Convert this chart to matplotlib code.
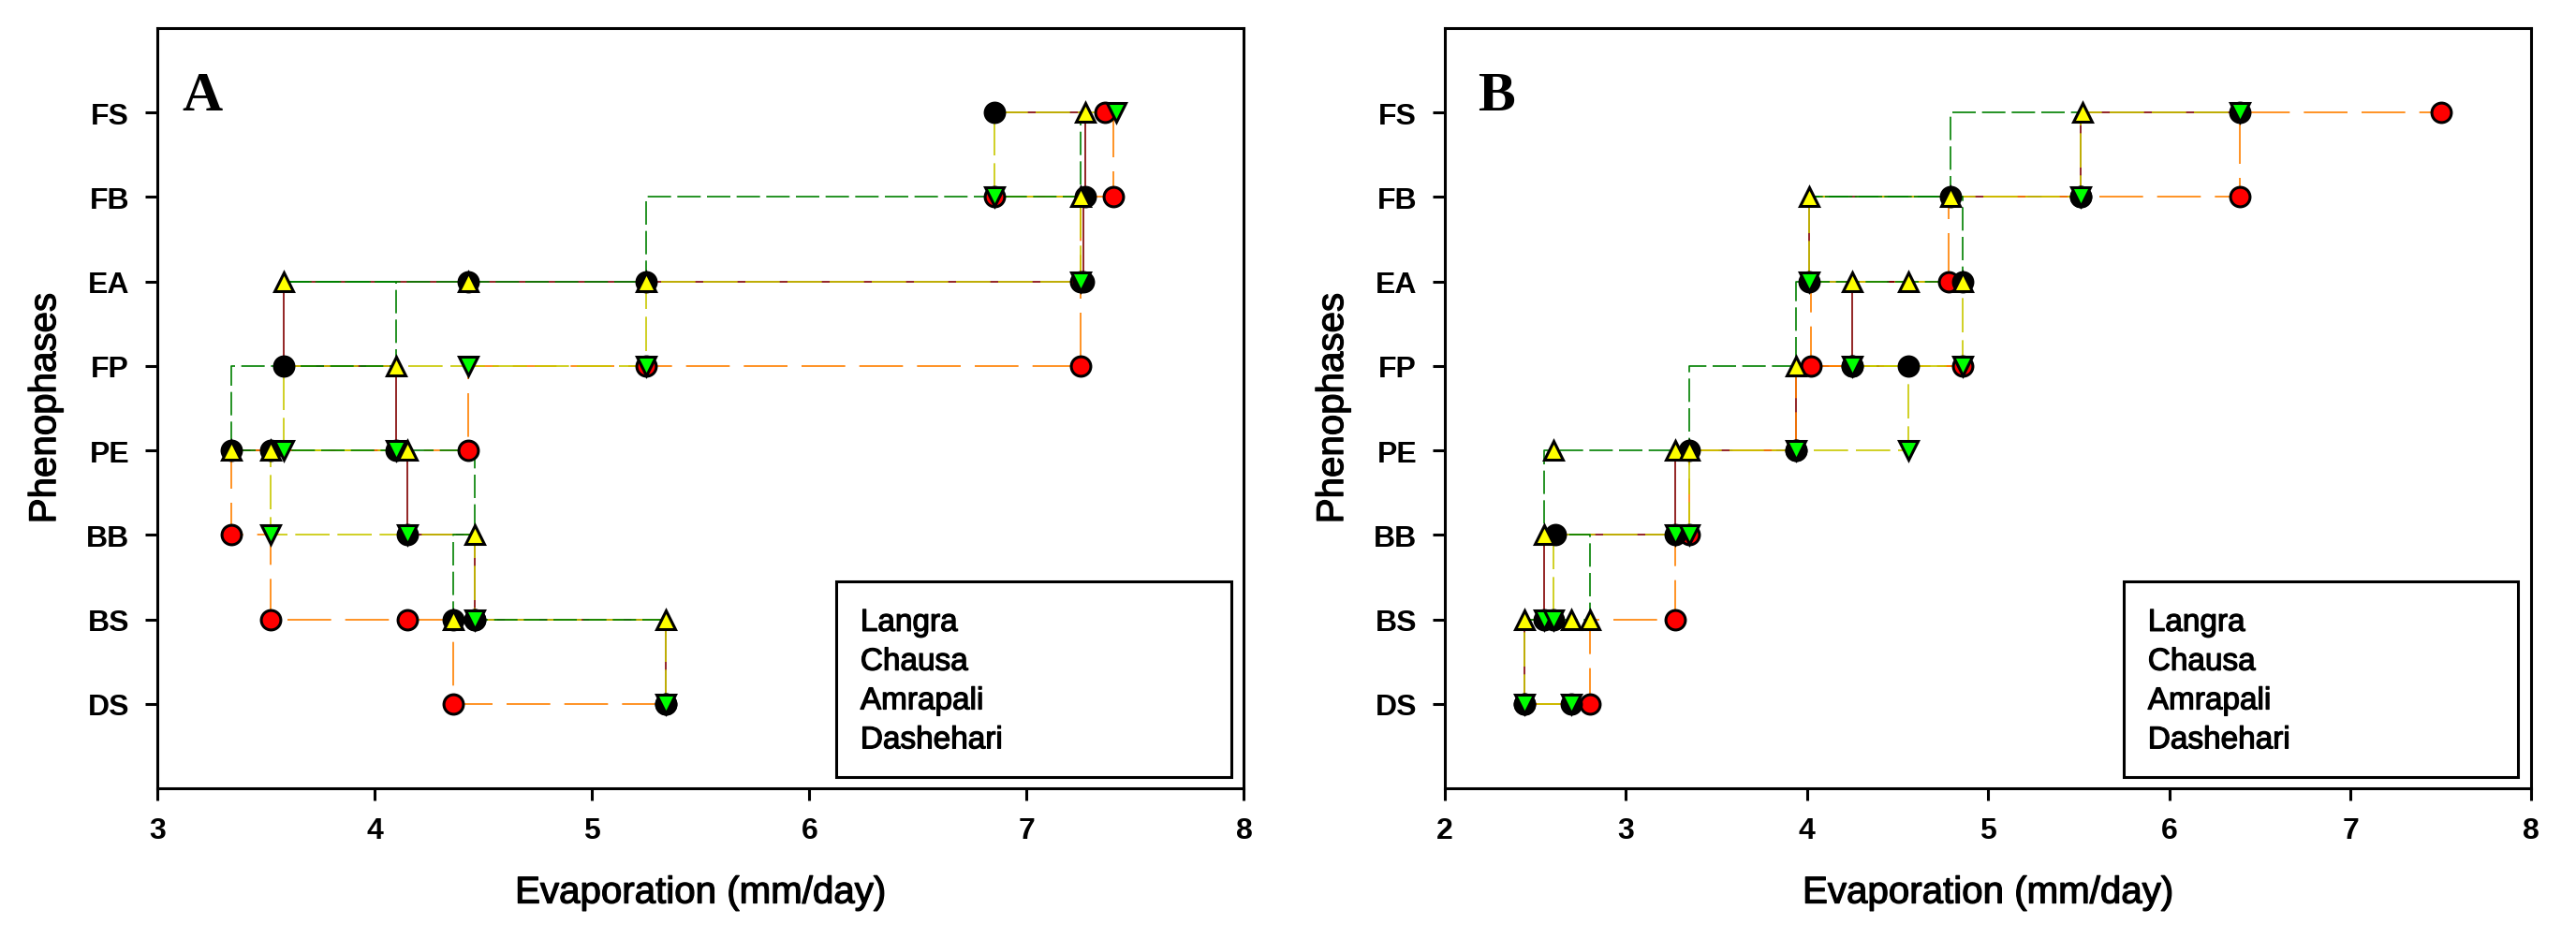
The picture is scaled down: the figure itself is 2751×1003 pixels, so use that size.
import matplotlib
matplotlib.use("Agg")
import matplotlib.pyplot as plt
import matplotlib.patheffects as pe
from matplotlib.patches import Rectangle

plt.rcParams['font.family'] = ['Liberation Sans', 'DejaVu Sans']

stages = ['DS', 'BS', 'BB', 'PE', 'FP', 'EA', 'FB', 'FS']
varieties = ['Langra', 'Chausa', 'Amrapali', 'Dashehari']

# weekly evaporation (mm/day) recorded within each phenophase, DS -> FS
# panel A
langra_a = [[5.34], [4.36, 4.46], [4.15], [3.34, 3.52, 4.10], [3.58],
            [4.43, 5.25, 7.26], [7.27], [6.85]]
chausa_a = [[5.34, 4.36], [4.46, 4.15, 3.52], [3.34], [4.43], [5.25, 7.25],
            [7.25], [6.85, 7.40], [7.36]]
amrapali_a = [[], [5.34, 4.36], [4.46], [4.15, 3.52, 3.34], [4.10],
              [3.58, 4.43, 5.25], [7.25], [7.27]]
dashehari_a = [[5.34], [4.46], [4.15, 3.52], [4.10, 3.58], [4.43, 5.25],
               [7.25], [6.85], [7.41]]

# panel B
langra_b = [[2.70, 2.44], [2.60, 2.55], [2.61, 3.27], [3.35, 3.94],
            [4.56, 4.25], [4.86, 4.01], [4.79, 5.51], [6.39]]
chausa_b = [[2.44, 2.80], [3.27], [3.35], [3.94], [4.25, 4.86, 4.02],
            [4.78], [5.51, 6.39], [7.50]]
amrapali_b = [[], [2.44, 2.70, 2.80], [2.55], [2.60, 3.27, 3.35], [3.94],
              [4.25, 4.56, 4.86], [4.01, 4.79], [5.52]]
dashehari_b = [[2.70, 2.44], [2.55, 2.60], [3.27, 3.35], [3.94, 4.56],
               [4.25, 4.86], [4.01], [5.51], [6.39]]

panels = [
    ('A', [langra_a, chausa_a, amrapali_a, dashehari_a], (3, 8), 0.023),
    ('B', [langra_b, chausa_b, amrapali_b, dashehari_b], (2, 8), 0.030),
]

# line / marker look per variety
line_styles = {
    'Langra': dict(color='#800000', ls='-'),
    'Chausa': dict(color='#FF8000', ls=(0, (28, 9))),
    'Amrapali': dict(color='#008000', ls=(0, (15, 4))),
    'Dashehari': dict(color='#C8C800', ls=(0, (22, 5))),
}
marker_styles = {
    'Langra': dict(marker='o', mfc='black', ms=15),
    'Chausa': dict(marker='o', mfc='#FF0000', ms=15),
    'Amrapali': dict(marker='^', mfc='#FFFF00', ms=14),
    'Dashehari': dict(marker='v', mfc='#00FF00', ms=14),
}
line_order = ['Langra', 'Chausa', 'Dashehari', 'Amrapali']
marker_order = ['Chausa', 'Langra', 'Dashehari', 'Amrapali']

heavy = [pe.withStroke(linewidth=0.9, foreground='black')]


def points(stage_lists):
    xs, ys = [], []
    for i, vals in enumerate(stage_lists):
        for v in vals:
            xs.append(v)
            ys.append(i + 1)
    return xs, ys


def step_path(xs, ys):
    # vertical first, then horizontal
    px, py = [xs[0]], [ys[0]]
    for k in range(1, len(xs)):
        px += [xs[k - 1], xs[k]]
        py += [ys[k], ys[k]]
    return px, py


fig = plt.figure(figsize=(27.51, 10.04), dpi=100)
lefts = [0.0611, 0.5609]

for (letter, series, xlim, lx), left in zip(panels, lefts):
    ax = fig.add_axes([left, 0.1604, 0.4218, 0.8088])
    data = dict(zip(varieties, series))

    for z, name in enumerate(line_order):
        xs, ys = points(data[name])
        px, py = step_path(xs, ys)
        ax.plot(px, py, lw=1.2, zorder=2 + z * 0.1, **line_styles[name])
    for z, name in enumerate(marker_order):
        xs, ys = points(data[name])
        ax.plot(xs, ys, ls='none', mec='black', mew=2.2, zorder=4 + z * 0.1,
                **marker_styles[name])

    ax.set_xlim(*xlim)
    ax.set_ylim(0, 9)
    ax.set_xticks(range(xlim[0], xlim[1] + 1))
    ax.set_yticks(range(1, len(stages) + 1))
    ax.set_yticklabels(stages)
    for lab in ax.get_xticklabels() + ax.get_yticklabels():
        lab.set_fontweight('bold')
    ax.tick_params(axis='x', direction='out', length=9.5, width=2.2,
                   labelsize=23, pad=12)
    ax.tick_params(axis='y', direction='out', length=9.5, width=2.2,
                   labelsize=23, pad=12)
    for sp in ax.spines.values():
        sp.set_linewidth(2.2)

    ax.set_xlabel('Evaporation (mm/day)', fontsize=29, path_effects=heavy)
    ax.set_ylabel('Phenophases', fontsize=29, path_effects=heavy)
    ax.xaxis.set_label_coords(0.5, -0.114)
    ax.yaxis.set_label_coords(-0.087, 0.5)

    ax.text(lx, 0.893, letter, transform=ax.transAxes, fontsize=43,
            fontweight='bold', family=['Liberation Serif', 'DejaVu Serif'],
            va='baseline', ha='left')

    ax.add_patch(Rectangle((0.625, 0.015), 0.363, 0.257, transform=ax.transAxes,
                           fill=False, lw=2.2, ec='black', zorder=6))
    for k, name in enumerate(varieties):
        ax.text(0.647, 0.207 - k * 0.0515, name, transform=ax.transAxes,
                fontsize=24, va='baseline', ha='left', zorder=7,
                path_effects=heavy)

fig.savefig('out.png', dpi=100)
